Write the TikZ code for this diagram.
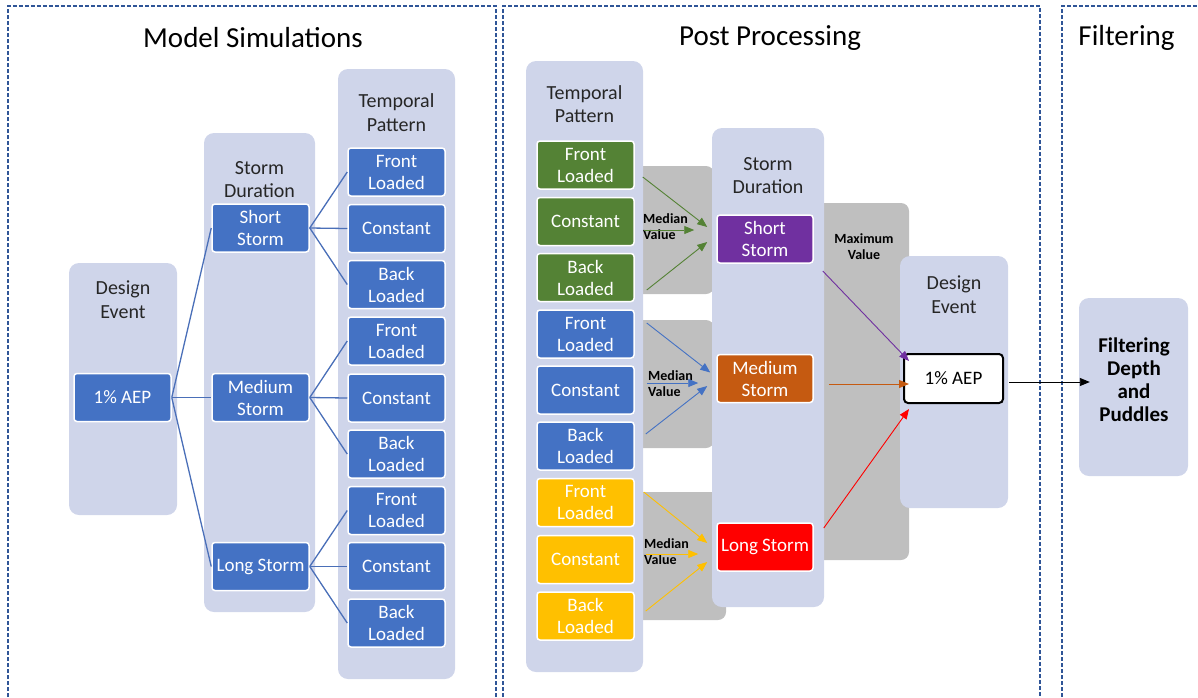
\documentclass[tikz,border=0pt]{standalone}
\usepackage{fontspec}
\setmainfont{Carlito}
\usetikzlibrary{arrows.meta,calc}

\definecolor{colbg}{HTML}{CFD5EA}
\definecolor{frameblue}{HTML}{2F5597}
\definecolor{boxblue}{HTML}{4472C4}
\definecolor{boxgreen}{HTML}{548235}
\definecolor{boxyellow}{HTML}{FFC000}
\definecolor{boxpurple}{HTML}{7030A0}
\definecolor{boxorange}{HTML}{C55A11}
\definecolor{panelgray}{HTML}{BFBFBF}
\definecolor{linkblue}{HTML}{4A6FB8}

\begin{document}
\begin{tikzpicture}[x=1pt,y=-1pt,
    colbox/.style={fill=colbg, rounded corners=10pt, inner sep=0pt},
    colhead/.style={align=center, text=black!85, font=\fontsize{20}{23.5}\selectfont},
    itembox/.style={draw=white, line width=1.5pt, rounded corners=3pt, minimum width=97pt,
        minimum height=48pt, inner sep=1pt, align=center, text=white, font=\fontsize{19}{22}\selectfont},
    sectitle/.style={font=\fontsize{29}{34}\selectfont},
    graypanel/.style={fill=panelgray, rounded corners=8pt},
    statlabel/.style={align=left, inner sep=0pt, font=\bfseries\fontsize{14}{16}\selectfont},
    treelink/.style={draw=linkblue, line width=1.3pt},
    feedarrow/.style={-{Triangle[length=10pt,width=8pt]}, line width=0.9pt},
    secframe/.style={draw=frameblue, line width=1.3pt, dash pattern=on 4pt off 2pt}]

    \useasboundingbox (0,0) rectangle (1198,697);

    % section frames
    \draw[secframe] (8,697) -- (8,6) -- (496,6) -- (496,697);
    \draw[secframe] (503,697) -- (503,6) -- (1040,6) -- (1040,697);
    \draw[secframe] (1062,697) -- (1062,6) -- (1198,6);

    \node[sectitle] (t1) at (253,38) {Model Simulations};
    \node[sectitle] (t2) at (770,38) {Post Processing};
    \node[sectitle] (t3) at (1126.5,38) {Filtering};

    % model simulations
    \node[colbox, minimum width=108pt, minimum height=252pt] (decol1) at (123,389) {};
    \node[colbox, minimum width=111pt, minimum height=479pt] (sdcol1) at (259.5,372.5) {};
    \node[colbox, minimum width=117pt, minimum height=610pt] (tpcol1) at (396.5,374) {};

    \node[colhead] (dehead1) at (123,299.5) {Design\\Event};
    \node[colhead] (sdhead1) at (259.5,179.5) {Storm\\Duration};
    \node[colhead] (tphead1) at (396.5,112.5) {Temporal\\Pattern};

    \node[itembox, fill=boxblue] (aep1) at (122.5,397.5) {1\% AEP};

    \node[itembox, fill=boxblue] (ss1) at (260.5,228) {Short\\Storm};
    \node[itembox, fill=boxblue] (ms1) at (260.5,397.5) {Medium\\Storm};
    \node[itembox, fill=boxblue] (ls1) at (260.5,566.5) {Long Storm};

    \node[itembox, fill=boxblue] (tp1) at (396.5,172) {Front\\Loaded};
    \node[itembox, fill=boxblue] (tp2) at (396.5,228.5) {Constant};
    \node[itembox, fill=boxblue] (tp3) at (396.5,284.5) {Back\\Loaded};
    \node[itembox, fill=boxblue] (tp4) at (396.5,341) {Front\\Loaded};
    \node[itembox, fill=boxblue] (tp5) at (396.5,398) {Constant};
    \node[itembox, fill=boxblue] (tp6) at (396.5,454) {Back\\Loaded};
    \node[itembox, fill=boxblue] (tp7) at (396.5,510.5) {Front\\Loaded};
    \node[itembox, fill=boxblue] (tp8) at (396.5,566.5) {Constant};
    \node[itembox, fill=boxblue] (tp9) at (396.5,623) {Back\\Loaded};

    \draw[treelink] (aep1.east) -- (ss1.west);
    \draw[treelink] (aep1.east) -- (ms1.west);
    \draw[treelink] (aep1.east) -- (ls1.west);

    \draw[treelink] (ss1.east) -- (tp1.west);
    \draw[treelink] (ss1.east) -- (tp2.west);
    \draw[treelink] (ss1.east) -- (tp3.west);
    \draw[treelink] (ms1.east) -- (tp4.west);
    \draw[treelink] (ms1.east) -- (tp5.west);
    \draw[treelink] (ms1.east) -- (tp6.west);
    \draw[treelink] (ls1.east) -- (tp7.west);
    \draw[treelink] (ls1.east) -- (tp8.west);
    \draw[treelink] (ls1.east) -- (tp9.west);

    % post processing
    \fill[graypanel] (630,166) rectangle (714,294);
    \fill[graypanel] (630,320) rectangle (714,448);
    \fill[graypanel] (630,492) rectangle (726,620);
    \fill[graypanel] (800,203) rectangle (909,560);

    \node[colbox, minimum width=117pt, minimum height=611pt] (tpcol2) at (584.5,366.5) {};
    \node[colbox, minimum width=112pt, minimum height=479pt] (sdcol2) at (768,367.5) {};
    \node[colbox, minimum width=108pt, minimum height=252pt] (decol2) at (954,382) {};

    \node[colhead] (tphead2) at (584.5,104) {Temporal\\Pattern};
    \node[colhead] (sdhead2) at (768,175.5) {Storm\\Duration};
    \node[colhead] (dehead2) at (954,294.5) {Design\\Event};

    \node[itembox, fill=boxgreen] (tg1) at (585.5,165) {Front\\Loaded};
    \node[itembox, fill=boxgreen] (tg2) at (585.5,221.5) {Constant};
    \node[itembox, fill=boxgreen] (tg3) at (585.5,277.5) {Back\\Loaded};
    \node[itembox, fill=boxblue] (tb1) at (585.5,334) {Front\\Loaded};
    \node[itembox, fill=boxblue] (tb2) at (585.5,390) {Constant};
    \node[itembox, fill=boxblue] (tb3) at (585.5,446) {Back\\Loaded};
    \node[itembox, fill=boxyellow] (ty1) at (585.5,502.5) {Front\\Loaded};
    \node[itembox, fill=boxyellow] (ty2) at (585.5,559.5) {Constant};
    \node[itembox, fill=boxyellow] (ty3) at (585.5,616) {Back\\Loaded};

    \node[itembox, fill=boxpurple, minimum width=96pt] (ss2) at (765,239) {Short\\Storm};
    \node[itembox, fill=boxorange, minimum width=96pt] (ms2) at (765,378.5) {Medium\\Storm};
    \node[itembox, fill=red, minimum width=96pt] (ls2) at (765,547) {Long Storm};

    \node[itembox, fill=white, draw=black, line width=2pt, rounded corners=4pt, text=black,
        minimum width=99pt, minimum height=49pt] (aep2) at (953.5,378.5) {1\% AEP};

    \node[statlabel, anchor=west] (med1) at (643,227) {Median\\Value};
    \node[statlabel, anchor=west] (med2) at (648,383.5) {Median\\Value};
    \node[statlabel, anchor=west] (med3) at (644,551.5) {Median\\Value};
    \node[statlabel, align=center] (maxv) at (864,247) {Maximum\\Value};

    \draw[feedarrow, boxgreen] ($(tg1.east)+(8,12)$) -- ($(ss2.west)+(-9,-12)$);
    \draw[feedarrow, boxgreen] ($(tg2.east)+(9,8.5)$) -- ($(ss2.west)+(-22,-9)$);
    \draw[feedarrow, boxgreen] ($(tg3.east)+(12,12.5)$) -- ($(ss2.west)+(-9,3)$);

    \draw[feedarrow, boxblue] ($(tb1.east)+(12,-11)$) -- ($(ms2.west)+(-6,-6)$);
    \draw[feedarrow, boxblue] ($(tb2.east)+(12,-7)$) -- ($(ms2.west)+(-18,4.5)$);
    \draw[feedarrow, boxblue] ($(tb3.east)+(11,-12)$) -- ($(ms2.west)+(-9,7.5)$);

    \draw[feedarrow, boxyellow] ($(ty1.east)+(9,-10.5)$) -- ($(ls2.west)+(-9,-4)$);
    \draw[feedarrow, boxyellow] ($(ty2.east)+(11,-5.5)$) -- ($(ls2.west)+(-18,7)$);
    \draw[feedarrow, boxyellow] ($(ty3.east)+(11,-5)$) -- ($(ls2.west)+(-9,15)$);

    \draw[feedarrow, boxpurple] ($(ss2.east)+(9,32)$) -- ($(aep2.west)+(6,-17.5)$);
    \draw[feedarrow, boxorange] ($(ms2.east)+(15,5.5)$) -- ($(aep2.west)+(6,5.5)$);
    \draw[feedarrow, red] ($(ls2.east)+(10,-19)$) -- ($(aep2.west)+(6,30.5)$);

    % filtering
    \node[colbox, minimum width=109pt, minimum height=178pt] (filt) at (1133.5,387) {};
    \node[align=center, font=\bfseries\fontsize{21}{23}\selectfont] (filttext) at (1134,380) {Filtering\\Depth\\and\\Puddles};

    \draw[feedarrow, black] ($(aep2.east)+(5,3.5)$) -- ($(filt.west)+(11,-5)$);
\end{tikzpicture}
\end{document}
